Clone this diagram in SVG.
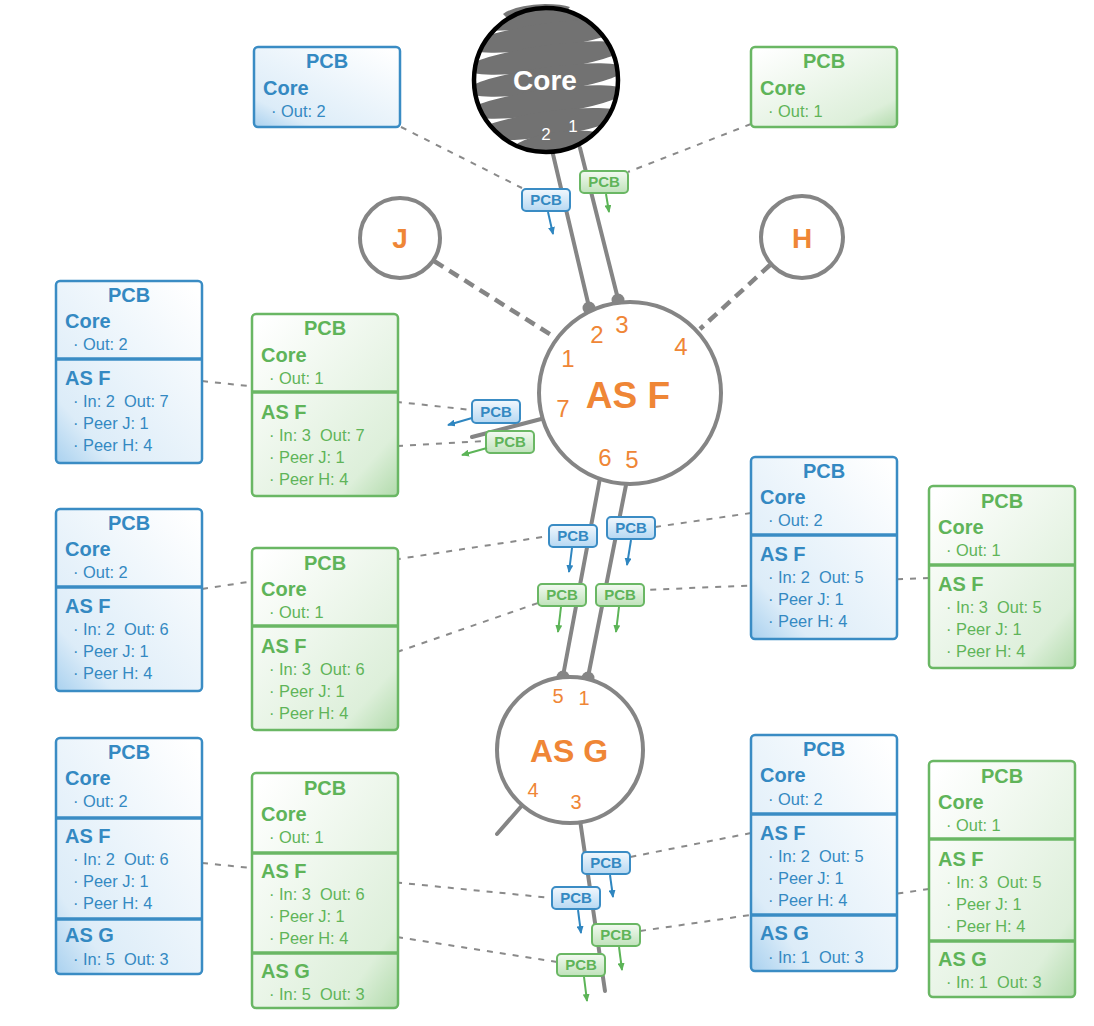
<svg xmlns="http://www.w3.org/2000/svg" width="1094" height="1026" viewBox="0 0 1094 1026">
<style>
text { font-family: "Liberation Sans", Arial, sans-serif; }
.conn { stroke:#858585; stroke-width:4; fill:none; stroke-linecap:round; }
.peer { stroke:#858585; stroke-width:4.5; stroke-dasharray:11 7; fill:none; }
.dash { stroke:#8a8a8a; stroke-width:2; stroke-dasharray:6 7; fill:none; }
.dot { fill:#858585; }
.circ { fill:#ffffff; stroke:#858585; stroke-width:4; }
.b rect.box { fill:url(#gb); stroke:#3a8cc4; stroke-width:2.5; }
.g rect.box { fill:url(#gg); stroke:#6ab764; stroke-width:2.5; }
.b .div { stroke:#3a8cc4; stroke-width:3.5; }
.g .div { stroke:#6ab764; stroke-width:3.5; }
.b text { fill:#3489c2; }
.g text { fill:#5fb459; }
.ttl { font-size:20px; font-weight:bold; text-anchor:middle; }
.hd { font-size:20px; font-weight:bold; }
.it { font-size:16.4px; white-space:pre; }
.b rect.tg { fill:url(#tb); stroke:#3a8cc4; stroke-width:2; }
.g rect.tg { fill:url(#tgr); stroke:#6ab764; stroke-width:2; }
.tt { font-size:15px; font-weight:bold; text-anchor:middle; }
.b line.ar { stroke:#2f86c0; stroke-width:2; marker-end:url(#ab); }
.g line.ar { stroke:#5cb457; stroke-width:2; marker-end:url(#ag); }
.org { fill:#ef8636; text-anchor:middle; }
.port { font-size:24px; }
.port2 { font-size:20px; }
</style>
<defs>
<linearGradient id="gb" x1="0.9" y1="0" x2="0" y2="1">
<stop offset="0" stop-color="#ffffff"/>
<stop offset="0.8" stop-color="#dcecf8"/>
<stop offset="1" stop-color="#a9d1ef"/>
</linearGradient>
<linearGradient id="gg" x1="0.1" y1="0" x2="1" y2="1">
<stop offset="0" stop-color="#ffffff"/>
<stop offset="0.8" stop-color="#ddefda"/>
<stop offset="1" stop-color="#b2dbac"/>
</linearGradient>
<linearGradient id="tb" x1="0" y1="0" x2="0" y2="1">
<stop offset="0" stop-color="#f2f8fd"/>
<stop offset="1" stop-color="#b6d8f2"/>
</linearGradient>
<linearGradient id="tgr" x1="0" y1="0" x2="0" y2="1">
<stop offset="0" stop-color="#f3faf2"/>
<stop offset="1" stop-color="#bfe2ba"/>
</linearGradient>
<marker id="ab" viewBox="0 0 8 7" refX="7" refY="3.5" markerWidth="8" markerHeight="7" markerUnits="userSpaceOnUse" orient="auto"><path d="M0,0 L8,3.5 L0,7 z" fill="#2f86c0"/></marker>
<marker id="ag" viewBox="0 0 8 7" refX="7" refY="3.5" markerWidth="8" markerHeight="7" markerUnits="userSpaceOnUse" orient="auto"><path d="M0,0 L8,3.5 L0,7 z" fill="#5cb457"/></marker>
<clipPath id="coreclip"><circle cx="546" cy="80" r="72"/></clipPath>
</defs>

<g id="connectors">
<line class="dash" x1="401" y1="127" x2="522" y2="188"/>
<line class="dash" x1="751" y1="124" x2="628" y2="172"/>
<line class="dash" x1="202" y1="381" x2="472" y2="410"/>
<line class="dash" x1="397" y1="446" x2="486" y2="441"/>
<line class="dash" x1="202" y1="589" x2="549" y2="536"/>
<line class="dash" x1="397" y1="652" x2="538" y2="603"/>
<line class="dash" x1="751" y1="513" x2="655" y2="527"/>
<line class="dash" x1="929" y1="578" x2="644" y2="590"/>
<line class="dash" x1="202" y1="863" x2="552" y2="898"/>
<line class="dash" x1="397" y1="937" x2="557" y2="962"/>
<line class="dash" x1="751" y1="833" x2="630" y2="857"/>
<line class="dash" x1="929" y1="889" x2="640" y2="931"/>
<line class="conn" x1="552" y1="150" x2="589" y2="307"/>
<line class="conn" x1="580" y1="148" x2="618" y2="299"/>
<circle class="dot" cx="589" cy="308" r="6.5"/>
<circle class="dot" cx="618" cy="300" r="6.5"/>
<line class="peer" x1="434" y1="261" x2="556" y2="338"/>
<line class="peer" x1="770" y1="265" x2="700" y2="329"/>
<line class="conn" x1="545" y1="418" x2="472" y2="437"/>
<line class="conn" x1="600" y1="478" x2="563" y2="676"/>
<line class="conn" x1="627" y1="480" x2="588" y2="677"/>
<circle class="dot" cx="563" cy="677" r="6.5"/>
<circle class="dot" cx="588" cy="678" r="6.5"/>
<line class="conn" x1="525" y1="802" x2="497" y2="834"/>
<line class="conn" x1="580" y1="820" x2="605" y2="991"/>
</g>

<g id="core">
<path d="M503,14 Q515,5 545,4 Q562,4 570,7 L566,12 Q535,12 508,19 Z" fill="#777777"/>
<g clip-path="url(#coreclip)" fill="#727272">
<rect x="470" y="0" width="160" height="160" fill="#ffffff"/>
<ellipse cx="546" cy="14" rx="80" ry="12.5" transform="rotate(-8 546 14)"/>
<ellipse cx="546" cy="36" rx="80" ry="12.5" transform="rotate(-8 546 36)"/>
<ellipse cx="546" cy="58" rx="80" ry="12.5" transform="rotate(-8 546 58)"/>
<ellipse cx="546" cy="80" rx="80" ry="12.5" transform="rotate(-8 546 80)"/>
<ellipse cx="546" cy="102" rx="80" ry="12.5" transform="rotate(-8 546 102)"/>
<ellipse cx="548" cy="124" rx="74" ry="12.5" transform="rotate(-8 548 124)"/>
<ellipse cx="558" cy="144" rx="46" ry="12" transform="rotate(-8 558 144)"/>
</g>
<circle cx="546" cy="80" r="72" fill="none" stroke="#000000" stroke-width="4.5"/>
<text x="545" y="90" fill="#ffffff" font-size="28" font-weight="bold" text-anchor="middle">Core</text>
<text x="546" y="140" fill="#ffffff" font-size="17" text-anchor="middle">2</text>
<text x="573" y="132" fill="#ffffff" font-size="17" text-anchor="middle">1</text>
</g>

<g id="as-j">
<circle class="circ" cx="400" cy="238" r="40"/>
<text class="org" x="400" y="248" font-size="28" font-weight="bold">J</text>
</g>
<g id="as-h">
<circle class="circ" cx="802" cy="237" r="41"/>
<text class="org" x="802" y="248" font-size="28" font-weight="bold">H</text>
</g>

<g id="as-f">
<circle class="circ" cx="630" cy="393" r="91"/>
<text class="org" x="628" y="408" font-size="37" font-weight="bold">AS F</text>
<text class="org port" x="568" y="367">1</text>
<text class="org port" x="597" y="343">2</text>
<text class="org port" x="622" y="333">3</text>
<text class="org port" x="681" y="355">4</text>
<text class="org port" x="632" y="468">5</text>
<text class="org port" x="605" y="466">6</text>
<text class="org port" x="563" y="417">7</text>
</g>

<g id="as-g">
<circle class="circ" cx="570" cy="750" r="73"/>
<text class="org" x="569" y="762" font-size="32" font-weight="bold">AS G</text>
<text class="org port2" x="558" y="703">5</text>
<text class="org port2" x="584" y="705">1</text>
<text class="org port2" x="533" y="797">4</text>
<text class="org port2" x="576" y="809">3</text>
</g>

<g id="tag1" class="b"><rect class="tg" x="522" y="189" width="48" height="22" rx="4"/><text class="tt" x="546" y="205">PCB</text><line class="ar" x1="548" y1="212" x2="553" y2="234"/></g>
<g id="tag2" class="g"><rect class="tg" x="580" y="171" width="48" height="22" rx="4"/><text class="tt" x="604" y="187">PCB</text><line class="ar" x1="606" y1="194" x2="609" y2="212"/></g>
<g id="tag3" class="b"><rect class="tg" x="472" y="400" width="48" height="23" rx="4"/><text class="tt" x="496" y="417">PCB</text><line class="ar" x1="472" y1="418" x2="448" y2="425"/></g>
<g id="tag4" class="g"><rect class="tg" x="486" y="431" width="48" height="22" rx="4"/><text class="tt" x="510" y="447">PCB</text><line class="ar" x1="487" y1="448" x2="462" y2="455"/></g>
<g id="tag5" class="b"><rect class="tg" x="549" y="525" width="48" height="22" rx="4"/><text class="tt" x="573" y="541">PCB</text><line class="ar" x1="572" y1="548" x2="569" y2="572"/></g>
<g id="tag6" class="b"><rect class="tg" x="607" y="517" width="48" height="22" rx="4"/><text class="tt" x="631" y="533">PCB</text><line class="ar" x1="631" y1="540" x2="627" y2="565"/></g>
<g id="tag7" class="g"><rect class="tg" x="538" y="584" width="48" height="22" rx="4"/><text class="tt" x="562" y="600">PCB</text><line class="ar" x1="561" y1="607" x2="558" y2="632"/></g>
<g id="tag8" class="g"><rect class="tg" x="596" y="584" width="48" height="22" rx="4"/><text class="tt" x="620" y="600">PCB</text><line class="ar" x1="619" y1="607" x2="616" y2="632"/></g>
<g id="tag9" class="b"><rect class="tg" x="582" y="852" width="48" height="22" rx="4"/><text class="tt" x="606" y="868">PCB</text><line class="ar" x1="610" y1="875" x2="613" y2="897"/></g>
<g id="tag10" class="b"><rect class="tg" x="552" y="887" width="48" height="22" rx="4"/><text class="tt" x="576" y="903">PCB</text><line class="ar" x1="578" y1="910" x2="581" y2="933"/></g>
<g id="tag11" class="g"><rect class="tg" x="592" y="924" width="48" height="22" rx="4"/><text class="tt" x="616" y="940">PCB</text><line class="ar" x1="619" y1="947" x2="622" y2="970"/></g>
<g id="tag12" class="g"><rect class="tg" x="557" y="954" width="48" height="22" rx="4"/><text class="tt" x="581" y="970">PCB</text><line class="ar" x1="584" y1="977" x2="587" y2="1001"/></g>

<g id="pcb-top-blue" class="b" transform="translate(254,47)">
<rect class="box" width="146" height="80" rx="4"/>
<text class="ttl" x="73" y="21">PCB</text>
<text class="hd" x="9" y="48">Core</text>
<text class="it" x="17" y="70">· Out: 2</text>
</g>
<g id="pcb-top-green" class="g" transform="translate(751,47)">
<rect class="box" width="146" height="80" rx="4"/>
<text class="ttl" x="73" y="21">PCB</text>
<text class="hd" x="9" y="48">Core</text>
<text class="it" x="17" y="70">· Out: 1</text>
</g>

<g id="pcb-l1" class="b" transform="translate(56,281)">
<rect class="box" width="146" height="182" rx="4"/>
<line class="div" x1="-1" y1="78" x2="146" y2="78"/>
<text class="ttl" x="73" y="21">PCB</text>
<text class="hd" x="9" y="47">Core</text>
<text class="it" x="17" y="69">· Out: 2</text>
<text class="hd" x="9" y="104">AS F</text>
<text class="it" x="17" y="126">· In: 2  Out: 7</text>
<text class="it" x="17" y="148">· Peer J: 1</text>
<text class="it" x="17" y="170">· Peer H: 4</text>
</g>
<g id="pcb-l2" class="g" transform="translate(252,314)">
<rect class="box" width="146" height="182" rx="4"/>
<line class="div" x1="0" y1="78" x2="146" y2="78"/>
<text class="ttl" x="73" y="21">PCB</text>
<text class="hd" x="9" y="48">Core</text>
<text class="it" x="17" y="70">· Out: 1</text>
<text class="hd" x="9" y="105">AS F</text>
<text class="it" x="17" y="127">· In: 3  Out: 7</text>
<text class="it" x="17" y="149">· Peer J: 1</text>
<text class="it" x="17" y="171">· Peer H: 4</text>
</g>
<g id="pcb-l3" class="b" transform="translate(56,509)">
<rect class="box" width="146" height="182" rx="4"/>
<line class="div" x1="0" y1="78" x2="146" y2="78"/>
<text class="ttl" x="73" y="21">PCB</text>
<text class="hd" x="9" y="47">Core</text>
<text class="it" x="17" y="69">· Out: 2</text>
<text class="hd" x="9" y="104">AS F</text>
<text class="it" x="17" y="126">· In: 2  Out: 6</text>
<text class="it" x="17" y="148">· Peer J: 1</text>
<text class="it" x="17" y="170">· Peer H: 4</text>
</g>
<g id="pcb-l4" class="g" transform="translate(252,548)">
<rect class="box" width="146" height="182" rx="4"/>
<line class="div" x1="0" y1="78" x2="146" y2="78"/>
<text class="ttl" x="73" y="22">PCB</text>
<text class="hd" x="9" y="48">Core</text>
<text class="it" x="17" y="70">· Out: 1</text>
<text class="hd" x="9" y="105">AS F</text>
<text class="it" x="17" y="127">· In: 3  Out: 6</text>
<text class="it" x="17" y="149">· Peer J: 1</text>
<text class="it" x="17" y="171">· Peer H: 4</text>
</g>
<g id="pcb-r1" class="b" transform="translate(751,457)">
<rect class="box" width="146" height="182" rx="4"/>
<line class="div" x1="0" y1="78" x2="146" y2="78"/>
<text class="ttl" x="73" y="21">PCB</text>
<text class="hd" x="9" y="47">Core</text>
<text class="it" x="17" y="69">· Out: 2</text>
<text class="hd" x="9" y="104">AS F</text>
<text class="it" x="17" y="126">· In: 2  Out: 5</text>
<text class="it" x="17" y="148">· Peer J: 1</text>
<text class="it" x="17" y="170">· Peer H: 4</text>
</g>
<g id="pcb-r2" class="g" transform="translate(929,486)">
<rect class="box" width="146" height="182" rx="4"/>
<line class="div" x1="0" y1="79" x2="146" y2="79"/>
<text class="ttl" x="73" y="22">PCB</text>
<text class="hd" x="9" y="48">Core</text>
<text class="it" x="17" y="70">· Out: 1</text>
<text class="hd" x="9" y="105">AS F</text>
<text class="it" x="17" y="127">· In: 3  Out: 5</text>
<text class="it" x="17" y="149">· Peer J: 1</text>
<text class="it" x="17" y="171">· Peer H: 4</text>
</g>
<g id="pcb-l5" class="b" transform="translate(56,738)">
<rect class="box" width="146" height="236" rx="4"/>
<line class="div" x1="-1" y1="80" x2="146" y2="80"/>
<line class="div" x1="-1" y1="181" x2="146" y2="181"/>
<text class="ttl" x="73" y="21">PCB</text>
<text class="hd" x="9" y="47">Core</text>
<text class="it" x="17" y="69">· Out: 2</text>
<text class="hd" x="9" y="105">AS F</text>
<text class="it" x="17" y="127">· In: 2  Out: 6</text>
<text class="it" x="17" y="149">· Peer J: 1</text>
<text class="it" x="17" y="171">· Peer H: 4</text>
<text class="hd" x="9" y="204">AS G</text>
<text class="it" x="17" y="227">· In: 5  Out: 3</text>
</g>
<g id="pcb-l6" class="g" transform="translate(252,773)">
<rect class="box" width="146" height="235" rx="4"/>
<line class="div" x1="0" y1="80" x2="146" y2="80"/>
<line class="div" x1="0" y1="180" x2="146" y2="180"/>
<text class="ttl" x="73" y="22">PCB</text>
<text class="hd" x="9" y="48">Core</text>
<text class="it" x="17" y="70">· Out: 1</text>
<text class="hd" x="9" y="105">AS F</text>
<text class="it" x="17" y="127">· In: 3  Out: 6</text>
<text class="it" x="17" y="149">· Peer J: 1</text>
<text class="it" x="17" y="171">· Peer H: 4</text>
<text class="hd" x="9" y="205">AS G</text>
<text class="it" x="17" y="227">· In: 5  Out: 3</text>
</g>
<g id="pcb-r3" class="b" transform="translate(751,735)">
<rect class="box" width="146" height="236" rx="4"/>
<line class="div" x1="0" y1="79" x2="146" y2="79"/>
<line class="div" x1="0" y1="180" x2="146" y2="180"/>
<text class="ttl" x="73" y="21">PCB</text>
<text class="hd" x="9" y="47">Core</text>
<text class="it" x="17" y="70">· Out: 2</text>
<text class="hd" x="9" y="105">AS F</text>
<text class="it" x="17" y="127">· In: 2  Out: 5</text>
<text class="it" x="17" y="149">· Peer J: 1</text>
<text class="it" x="17" y="171">· Peer H: 4</text>
<text class="hd" x="9" y="205">AS G</text>
<text class="it" x="17" y="228">· In: 1  Out: 3</text>
</g>
<g id="pcb-r4" class="g" transform="translate(929,761)">
<rect class="box" width="146" height="236" rx="4"/>
<line class="div" x1="0" y1="78" x2="146" y2="78"/>
<line class="div" x1="0" y1="180" x2="146" y2="180"/>
<text class="ttl" x="73" y="22">PCB</text>
<text class="hd" x="9" y="48">Core</text>
<text class="it" x="17" y="70">· Out: 1</text>
<text class="hd" x="9" y="105">AS F</text>
<text class="it" x="17" y="127">· In: 3  Out: 5</text>
<text class="it" x="17" y="149">· Peer J: 1</text>
<text class="it" x="17" y="171">· Peer H: 4</text>
<text class="hd" x="9" y="205">AS G</text>
<text class="it" x="17" y="227">· In: 1  Out: 3</text>
</g>
</svg>
